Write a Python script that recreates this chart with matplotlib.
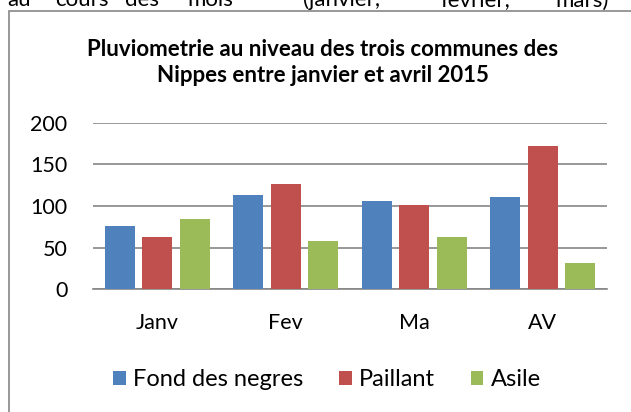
import numpy as np
import matplotlib.pyplot as plt
from matplotlib.patches import Rectangle

plt.rcParams['font.family'] = ['Lato', 'DejaVu Sans']

# données
mois = ['Janv', 'Fev', 'Ma', 'AV']
fond_des_negres = [76, 113, 106, 111]
paillant = [63, 126, 101, 172]
asile = [84, 58, 63, 32]
series = ['Fond des negres', 'Paillant', 'Asile']
couleurs = ['#4F81BD', '#C0504D', '#9BBB59']

W, H = 631, 412
fig = plt.figure(figsize=(W / 100, H / 100), dpi=100)

# texte du document coupé en haut (justifié)
mots = ['au', 'cours', 'des', 'mois', '(janvier,', 'fevrier,', 'mars)']
pos_mots = [7, 55, 125, 187, 303, 440, 555]
for m, px in zip(mots, pos_mots):
    fig.text(px / W, 1 - 6.5 / H, m, fontsize=16, va='baseline', ha='left')

# cadre du graphique (le bord droit et le bas sont hors de l'image)
fig.patches.append(Rectangle((8.5 / W, -0.1), 1.0, 1.1 - 11.5 / H,
                             transform=fig.transFigure, fill=False,
                             edgecolor='#868686', linewidth=1.2))

ax = fig.add_axes([93 / W, 1 - 289.3 / H, (607 - 93) / W, (289.3 - 122.7) / H])

x = np.arange(len(mois))
w = 0.233
off = 0.292
for i, (vals, nom, c) in enumerate(zip([fond_des_negres, paillant, asile], series, couleurs)):
    ax.bar(x + (i - 1) * off, vals, w, color=c, label=nom, zorder=3)

ax.set_xlim(-0.5, 3.5)
ax.set_ylim(0, 200)
ax.set_yticks([0, 50, 100, 150, 200])
ax.set_xticks(x)
ax.set_xticklabels(mois)
ax.grid(axis='y', color='#868686', linewidth=1.2, zorder=0)
for s in ['top', 'right', 'left']:
    ax.spines[s].set_visible(False)
ax.spines['bottom'].set_color('#868686')
ax.spines['bottom'].set_linewidth(1.2)
ax.tick_params(axis='both', length=0, labelsize=15.5)
ax.tick_params(axis='y', pad=18.5)
ax.tick_params(axis='x', pad=17)

fig.text(323 / W, 1 - 62.5 / H,
         'Pluviometrie au niveau des trois communes des\nNippes entre janvier et avril 2015',
         ha='center', va='center', fontsize=16, fontweight='bold', linespacing=1.25)

fig.legend(loc='center', bbox_to_anchor=(327 / W, 1 - 380 / H), ncol=3,
           frameon=False, fontsize=17, handlelength=0.55, handleheight=0.55,
           handletextpad=0.3, columnspacing=1.5)

fig.savefig('out.png', dpi=100)
